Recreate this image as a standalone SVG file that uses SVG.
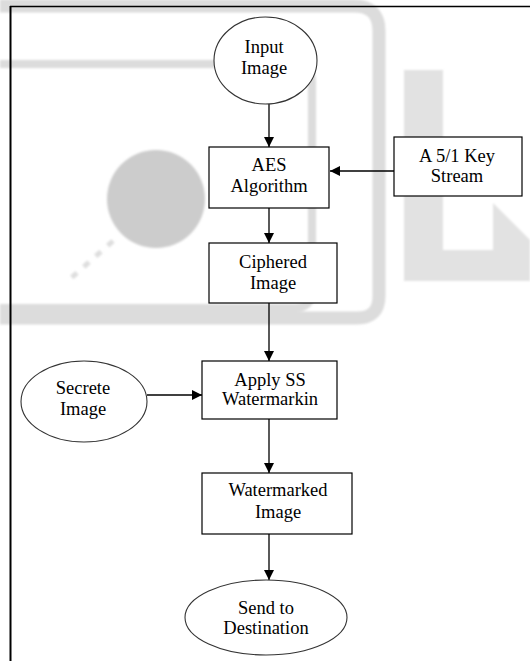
<svg xmlns="http://www.w3.org/2000/svg" width="530" height="661" viewBox="0 0 530 661">
<defs>
<style>
.bx{fill:#fff;stroke:#000;stroke-width:1.2}
.el{fill:#fff;stroke:#333;stroke-width:1.1}
.tx{font-family:"Liberation Serif","Times New Roman",serif;font-size:18.5px;fill:#000;text-anchor:middle}
.cn{stroke:#000;stroke-width:1.3;fill:none}
.wm{fill:none;stroke:#dcdcdc}
</style>
<filter id="soft" x="-5%" y="-5%" width="110%" height="110%"><feGaussianBlur stdDeviation="1.2"/></filter>
<marker id="ah" viewBox="0 0 10 10" refX="10" refY="5" markerWidth="10" markerHeight="10" markerUnits="userSpaceOnUse" orient="auto">
<path d="M0,0 L10,5 L0,10 Z" fill="#000"/>
</marker>
</defs>
<rect width="530" height="661" fill="#fff"/>
<g id="watermark" filter="url(#soft)">
<path class="wm" stroke-width="13" d="M0,6 H354 Q379,6 379,31 V296 Q379,318 357,318 H0"/>
<path class="wm" stroke-width="8" d="M0,64 H294 Q312,64 312,82 V290 Q312,308 294,308 H0"/>
<circle cx="156" cy="199" r="49" fill="#cccccc"/>
<line x1="113" y1="241" x2="70" y2="279" stroke="#dedede" stroke-width="5" stroke-dasharray="7,9"/>
<path d="M404,70 H443 V250 H493 V203 L530,240 V281 H404 Z" fill="#e2e2e2"/>
</g>
<g id="frame">
<line x1="10" y1="6.5" x2="530" y2="6.5" stroke="#000" stroke-width="1.5"/>
<line x1="10.5" y1="6" x2="10.5" y2="661" stroke="#000" stroke-width="2"/>
</g>
<g id="connectors">
<line class="cn" x1="269" y1="104" x2="269" y2="147" marker-end="url(#ah)"/>
<line class="cn" x1="394" y1="171" x2="330" y2="171" marker-end="url(#ah)"/>
<line class="cn" x1="269" y1="208" x2="269" y2="243" marker-end="url(#ah)"/>
<line class="cn" x1="269" y1="303" x2="269" y2="361" marker-end="url(#ah)"/>
<line class="cn" x1="147" y1="395" x2="202" y2="395" marker-end="url(#ah)"/>
<line class="cn" x1="269" y1="419" x2="269" y2="473" marker-end="url(#ah)"/>
<line class="cn" x1="269" y1="534" x2="269" y2="580" marker-end="url(#ah)"/>
</g>
<g id="input-image">
<ellipse class="el" cx="265.5" cy="60.5" rx="51.5" ry="43.5"/>
<text class="tx" x="264" y="53">Input</text>
<text class="tx" x="264" y="74">Image</text>
</g>
<g id="aes-algorithm">
<rect class="bx" x="209" y="147" width="120" height="61"/>
<text class="tx" x="269" y="171">AES</text>
<text class="tx" x="269" y="192">Algorithm</text>
</g>
<g id="key-stream">
<rect class="bx" x="394" y="137" width="128" height="59"/>
<text class="tx" x="457" y="162">A 5/1 Key</text>
<text class="tx" x="457" y="182">Stream</text>
</g>
<g id="ciphered-image">
<rect class="bx" x="209" y="243" width="128" height="60"/>
<text class="tx" x="273" y="268">Ciphered</text>
<text class="tx" x="273" y="289">Image</text>
</g>
<g id="secrete-image">
<ellipse class="el" cx="84" cy="401.5" rx="63" ry="40.5"/>
<text class="tx" x="83" y="394">Secrete</text>
<text class="tx" x="83" y="415">Image</text>
</g>
<g id="apply-ss">
<rect class="bx" x="202" y="361" width="135" height="58"/>
<text class="tx" x="270" y="386">Apply SS</text>
<text class="tx" x="270" y="405">Watermarkin</text>
</g>
<g id="watermarked-image">
<rect class="bx" x="202" y="473" width="150" height="61"/>
<text class="tx" x="278" y="496">Watermarked</text>
<text class="tx" x="278" y="518">Image</text>
</g>
<g id="send-destination">
<ellipse class="el" cx="266" cy="617.5" rx="81" ry="37.5"/>
<text class="tx" x="266" y="614">Send to</text>
<text class="tx" x="266" y="634">Destination</text>
</g>
</svg>
